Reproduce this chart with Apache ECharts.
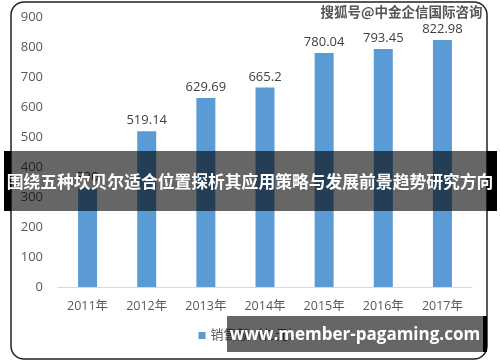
<!DOCTYPE html>
<html>
<head>
<meta charset="utf-8">
<script src="https://cdn.jsdelivr.net/npm/echarts@6/dist/echarts.min.js"></script>
<style>html,body{margin:0;padding:0;background:#fff;}#c{width:500px;height:362px;}</style>
</head>
<body>
<div id="c"></div>
<script>
const categories = ['2011年','2012年','2013年','2014年','2015年','2016年','2017年'];
const salesValues = [330, 519.14, 629.69, 665.2, 780.04, 793.45, 822.98];
const seriesName = '销售额（亿元）';
const yTicks = {min: 0, max: 900, interval: 100};
const titleText = '围绕五种坎贝尔适合位置探析其应用策略与发展前景趋势研究方向';
const watermarkText = '搜狐号@中金企信国际咨询';
const siteText = 'www.member-pagaming.com';

const chart = echarts.init(document.getElementById('c'), null, {renderer: 'canvas'});
const baseFont = '"Open Sans", "Noto Sans CJK SC", sans-serif';
chart.setOption({
  animation: false,
  backgroundColor: '#fff',
  grid: {left: 58, right: 28, top: 17, bottom: 75, containLabel: false},
  legend: {
    bottom: 15, left: 'center',
    itemWidth: 7, itemHeight: 7, itemGap: 5,
    icon: 'rect',
    textStyle: {fontFamily: baseFont, fontSize: 13, color: '#595959'},
    data: [seriesName]
  },
  xAxis: {
    type: 'category', data: categories,
    axisLine: {lineStyle: {color: '#d9d9d9', width: 1}},
    axisTick: {show: false},
    axisLabel: {fontFamily: baseFont, fontSize: 12.5, color: '#595959', margin: 13}
  },
  yAxis: {
    type: 'value', min: yTicks.min, max: yTicks.max, interval: yTicks.interval,
    axisLine: {show: false}, axisTick: {show: false}, splitLine: {show: false},
    axisLabel: {fontFamily: baseFont, fontSize: 13, color: '#595959', margin: 15}
  },
  series: [{
    name: seriesName, type: 'bar', data: salesValues, barWidth: 19,
    itemStyle: {color: '#5B9BD5'},
    label: {show: true, position: 'top', distance: 4, fontFamily: baseFont, fontSize: 13, color: '#404040'}
  }],
  graphic: [
    {type: 'rect', z: 100, silent: true, shape: {x: 11, y: 2, width: 476, height: 357, r: 13},
     style: {fill: 'none', stroke: '#222', lineWidth: 1.5}},
    {type: 'text', z: 101, left: 320, top: 5, silent: true,
     style: {text: watermarkText, font: 'bold 13.5px "Noto Sans CJK SC", sans-serif', fill: '#555', stroke: '#fff', lineWidth: 1}},
    {type: 'rect', z: 110, silent: true, shape: {x: 4, y: 151, width: 7, height: 60}, style: {fill: '#000'}},
    {type: 'rect', z: 110, silent: true, shape: {x: 487, y: 151, width: 10, height: 60}, style: {fill: '#000'}},
    {type: 'rect', z: 110, silent: true, shape: {x: 11, y: 151, width: 476, height: 60}, style: {fill: 'rgba(0,0,0,0.6)'}},
    {type: 'text', z: 111, silent: true, x: 250, y: 182,
     style: {text: titleText, font: 'bold 16.8px "Noto Sans CJK SC", sans-serif', fill: '#fff', align: 'center', verticalAlign: 'middle'}},
    {type: 'rect', z: 110, silent: true, shape: {x: 483, y: 316, width: 4, height: 36}, style: {fill: '#000'}},
    {type: 'rect', z: 110, silent: true, shape: {x: 227, y: 316, width: 256, height: 36}, style: {fill: 'rgba(0,0,0,0.6)'}},
    {type: 'text', z: 111, silent: true, x: 355, y: 335,
     style: {text: siteText, font: 'bold 17px "Open Sans", sans-serif', fill: '#fff', align: 'center', verticalAlign: 'middle'}}
  ]
});
</script>
</body>
</html>
